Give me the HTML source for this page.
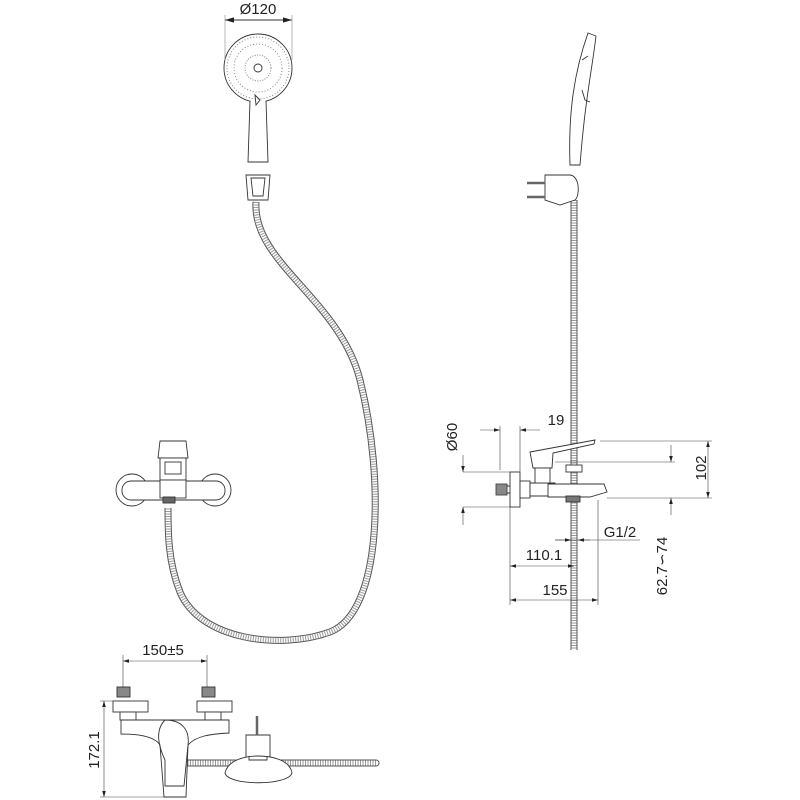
<!DOCTYPE html>
<html><head><meta charset="utf-8"><style>
html,body{margin:0;padding:0;background:#fff;width:800px;height:800px;overflow:hidden}
svg text{font-family:"Liberation Sans",sans-serif;font-size:15px;fill:#222}
</style></head><body>
<svg width="800" height="800" viewBox="0 0 800 800" xmlns="http://www.w3.org/2000/svg">
<defs>
<marker id="a" viewBox="0 0 10 6" refX="10" refY="3" markerWidth="10" markerHeight="6" orient="auto-start-reverse"><path d="M0,0 L10,3 L0,6 z" fill="#222"/></marker>
</defs>
<g fill="none" stroke="#333" stroke-width="0.9">
<!-- hoses -->
<g id="hose1">
<path d="M256,202 C252,262 340,300 360,380 C385,480 382,612 330,632 C280,650 200,640 180,592 C168,562 168,532 168,508" stroke="#555" stroke-width="7"/>
<path d="M256,202 C252,262 340,300 360,380 C385,480 382,612 330,632 C280,650 200,640 180,592 C168,562 168,532 168,508" stroke="#fff" stroke-width="5"/>
<path d="M256,202 C252,262 340,300 360,380 C385,480 382,612 330,632 C280,650 200,640 180,592 C168,562 168,532 168,508" stroke="#999" stroke-width="5" stroke-dasharray="1 1.5"/>
</g>
<path d="M574,200 V650" stroke="#555" stroke-width="7"/>
<path d="M574,200 V650" stroke="#fff" stroke-width="5"/>
<path d="M574,200 V650" stroke="#999" stroke-width="5" stroke-dasharray="1 1.5"/>
<path d="M185,763 H376" stroke="#555" stroke-width="7" stroke-linecap="round"/>
<path d="M185,763 H376" stroke="#fff" stroke-width="5" stroke-linecap="round"/>
<path d="M185,763 H376" stroke="#999" stroke-width="5" stroke-dasharray="1 1.5"/>

<!-- shower head front -->
<circle cx="258" cy="68" r="34" fill="#fff"/>
<circle cx="258" cy="68" r="31" stroke-dasharray="1 2" stroke="#777"/>
<circle cx="258" cy="68" r="24" stroke-dasharray="1 2" stroke="#777"/>
<circle cx="258" cy="68" r="13" stroke-dasharray="1 1.5" stroke="#777"/>
<circle cx="258" cy="68" r="4"/>
<path d="M250,101 L248,162 H268 L266,101" fill="#fff"/>
<path d="M255,95 L256,105 L260,100 Z"/>
<path d="M246,175 H270 L268,200 H248 Z" fill="#fff"/>
<path d="M251,178 H265 L263,196 H253 Z"/>
<!-- dim 120 -->
<path d="M225,20 H292" marker-start="url(#a)" marker-end="url(#a)"/>
<path d="M225,15 V60 M292,15 V60" stroke="#888" stroke-width="0.6"/>

<!-- shower side view -->
<path d="M588,33 L596,36 C592,70 585,100 580,165 H570 C568,110 575,70 588,33 Z" fill="#fff"/>
<path d="M582,60 L588,56 M582,90 L585,100 L590,102"/>
<path d="M545,175 H570 C580,176 580,196 575,200 L560,205 L545,200 Z" fill="#fff"/>
<path d="M527,183 H545 M527,197 H545" stroke-width="2.5" stroke="#666"/>

<!-- front faucet -->
<circle cx="132" cy="490" r="16" fill="#fff"/>
<circle cx="215" cy="490" r="16" fill="#fff"/>
<rect x="122" y="481" width="103" height="19" rx="9" fill="#fff"/>
<path d="M160,441 L158,458 H188 L186,441 Z" fill="#fff"/>
<rect x="160" y="458" width="26" height="22" fill="#fff"/>
<rect x="165" y="462" width="16" height="12"/>
<rect x="160" y="480" width="26" height="18" fill="#fff"/>
<rect x="163" y="497" width="12" height="6" fill="#666"/>

<!-- side faucet -->
<rect x="510" y="472" width="10" height="35" fill="#fff"/>
<rect x="496" y="484" width="11" height="11" fill="#888" stroke="#444"/>
<path d="M507,486 H510 M507,493 H510"/>
<rect x="520" y="481" width="10" height="17" fill="#fff"/>
<path d="M530,483 H555 V496 H530 Z" fill="#fff"/>
<path d="M530,452 L595,440 L594,444 L553,453 L552,468 H533 L530,452 Z" fill="#fff"/>
<rect x="535" y="468" width="15" height="15" fill="#fff"/>
<path d="M548,484 H604 L607,492 L590,497 H548 Z" fill="#fff"/>
<rect x="566" y="465" width="16" height="7" fill="#fff"/>
<rect x="566" y="496" width="14" height="6" fill="#777"/>

<!-- side dims -->
<g stroke-width="0.6" stroke="#444">
<path d="M500,426 V470 M520,426 V472"/>
<path d="M480,430 H500" marker-end="url(#a)"/><path d="M540,430 H520" marker-end="url(#a)"/>
<path d="M463,472 H510 M463,507 H510"/>
<path d="M463,455 V472" marker-end="url(#a)"/><path d="M463,525 V507" marker-end="url(#a)"/>
<path d="M600,441 H712 M607,498 H712"/>
<path d="M708,441 V498" marker-start="url(#a)" marker-end="url(#a)"/>
<path d="M555,462 H675"/>
<path d="M671,445 V462" marker-end="url(#a)"/><path d="M671,515 V498" marker-end="url(#a)"/>
<path d="M555,540 H640"/><path d="M555,540 H571" marker-end="url(#a)"/><path d="M590,540 H578" marker-end="url(#a)"/>
<path d="M510,507 V605 M598,500 V605"/>
<path d="M510,566 H574" marker-start="url(#a)" marker-end="url(#a)"/>
<path d="M510,600 H598" marker-start="url(#a)" marker-end="url(#a)"/>
</g>

<!-- bottom view -->
<g stroke-width="0.6" stroke="#444">
<path d="M123,655 V690 M207,655 V690"/>
<path d="M123,661 H207" marker-start="url(#a)" marker-end="url(#a)"/>
<path d="M100,701 H113 M100,797 H165"/>
<path d="M104,701 V797" marker-start="url(#a)" marker-end="url(#a)"/>
</g>
<rect x="117" y="687" width="13" height="10" fill="#888"/>
<rect x="202" y="687" width="13" height="10" fill="#888"/>
<rect x="113" y="701" width="35" height="11" fill="#fff"/>
<rect x="197" y="701" width="35" height="11" fill="#fff"/>
<rect x="120" y="712" width="16" height="8" fill="#fff"/>
<rect x="205" y="712" width="16" height="8" fill="#fff"/>
<path d="M121,720 H229 V733 C210,734 196,736 188,745 L186,797 H164 L160,745 C155,737 140,734 121,734 Z" fill="#fff"/>
<path d="M165,720 C155,730 158,745 165,760 L165,786 H184 L188,745 C190,730 182,720 165,720 Z"/>
<path d="M246,735 H270 V757 H246 Z" fill="#fff"/>
<path d="M257,716 V735" stroke-width="2.5" stroke="#666"/>
<path d="M225,773 C228,760 245,756 258,756 C272,756 290,760 292,773 C288,786 228,786 225,773 Z" fill="#fff"/>
<path d="M249,756 V760 H267 V756"/>
</g>

<text x="258" y="14" text-anchor="middle">Ø120</text>
<text x="556" y="425" text-anchor="middle">19</text>
<text x="457" y="437" text-anchor="middle" transform="rotate(-90 457 437)">Ø60</text>
<text x="706" y="468" text-anchor="middle" transform="rotate(-90 706 468)">102</text>
<text x="667" y="566" text-anchor="middle" transform="rotate(-90 667 566)">62.7∽74</text>
<text x="620" y="537" text-anchor="middle">G1/2</text>
<text x="544" y="560" text-anchor="middle">110.1</text>
<text x="555" y="595" text-anchor="middle">155</text>
<text x="163" y="655" text-anchor="middle">150±5</text>
<text x="99" y="750" text-anchor="middle" transform="rotate(-90 99 750)">172.1</text>
</svg>
</body></html>
